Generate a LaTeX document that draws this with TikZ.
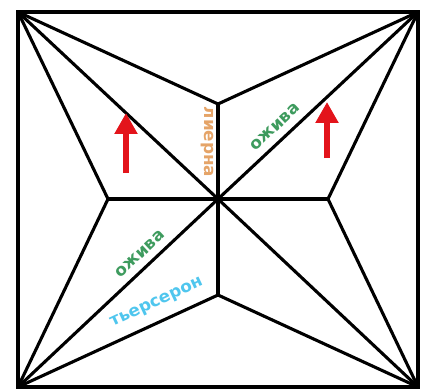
\documentclass[tikz,border=0pt]{standalone}
\usepackage{fontspec}
\usepackage{graphicx}
\setmainfont{DejaVu Sans}
\usetikzlibrary{arrows.meta}
\definecolor{arrowred}{HTML}{E3141B}
\definecolor{ojgreen}{HTML}{3E9B5E}
\definecolor{tblue}{HTML}{4FC6EE}
\definecolor{lorange}{HTML}{E5A468}
\begin{document}
\begin{tikzpicture}[x=1pt,y=-1pt,
  edge/.style={line width=3.1pt, line join=round, line cap=round},
  frame/.style={line width=3.6pt},
  lbl/.style={inner sep=0pt, font=\fontsize{16.5}{16.5}\selectfont\bfseries},
  upar/.style={draw=arrowred, line width=6pt, -{Triangle[width=22pt,length=21pt]}}]
\fill[white] (0,0) rectangle (422,390);
\useasboundingbox (0,0) rectangle (422,390);
\coordinate (TL) at (18,12);
\coordinate (TR) at (418,12);
\coordinate (BL) at (18,387);
\coordinate (BR) at (418,387);
\coordinate (T) at (218,104);
\coordinate (L) at (108,199);
\coordinate (C) at (218,199);
\coordinate (R) at (328,199);
\coordinate (B) at (218,295);
\draw[edge] (TL) -- (T) -- (TR);
\draw[edge] (TL) -- (L) -- (BL);
\draw[edge] (TR) -- (R) -- (BR);
\draw[edge] (BL) -- (B) -- (BR);
\draw[edge] (TL) -- (C) -- (BR);
\draw[edge] (TR) -- (C) -- (BL);
\draw[edge] (L) -- (R);
\draw[edge] (T) -- (B);
\draw[frame] (TL) rectangle (BR);
\coordinate (a1s) at (126,173);
\coordinate (a1t) at (126,113);
\coordinate (a2s) at (327,158);
\coordinate (a2t) at (327,102);
\draw[upar] (a1s) -- (a1t);
\draw[upar] (a2s) -- (a2t);
\node[lbl, text=lorange, rotate=-90] (lie) at (207,142) {\scalebox{1.02}[1]{лиерна}};
\node[lbl, text=ojgreen, rotate=43] (oz1) at (275,127) {\scalebox{1.02}[1]{ожива}};
\node[lbl, text=ojgreen, rotate=43] (oz2) at (140,254) {\scalebox{1.02}[1]{ожива}};
\node[lbl, text=tblue, rotate=25] (tie) at (157,303) {\scalebox{1.02}[1]{тьерсерон}};
\end{tikzpicture}
\end{document}
